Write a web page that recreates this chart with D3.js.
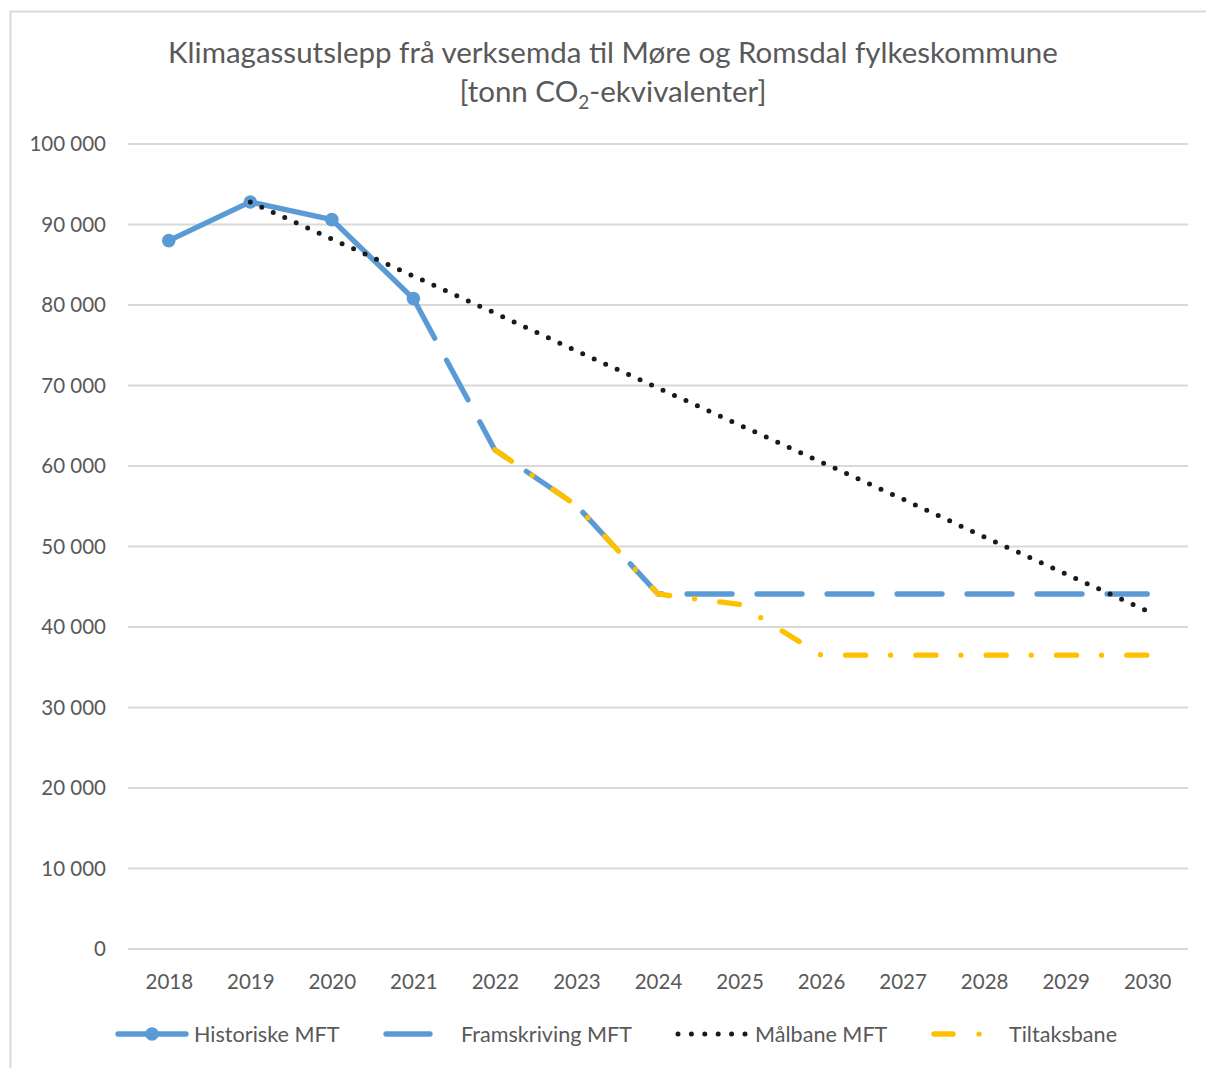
<!DOCTYPE html>
<html>
<head>
<meta charset="utf-8">
<title>Klimagassutslepp</title>
<script src="https://d3js.org/d3.v7.min.js"></script>
<style>
  body { margin: 0; background: #fff; }
  text { font-family: Lato, "Open Sans", sans-serif; fill: #595959; }
</style>
</head>
<body>
<div id="container"></div>
<script>
//---------------------------- DATA ----------------------------//
var years = [2018, 2019, 2020, 2021, 2022, 2023, 2024, 2025, 2026, 2027, 2028, 2029, 2030];
var yTicks = [0, 10000, 20000, 30000, 40000, 50000, 60000, 70000, 80000, 90000, 100000];

// null = no value for that year
var historiske  = [88000, 92800, 90600, 80800, null, null, null, null, null, null, null, null, null];
var framskriving = [null, null, null, 80800, 62000, 55100, 44100, 44100, 44100, 44100, 44100, 44100, 44100];
var malbane     = [null, 92800, 88200, 83600, 79000, 74300, 69700, 65100, 60500, 55900, 51200, 46600, 42000];
var tiltaksbane = [null, null, null, null, 62000, 55100, 44100, 42800, 36500, 36500, 36500, 36500, 36500];

var seriesNames = ["Historiske MFT", "Framskriving MFT", "Målbane MFT", "Tiltaksbane"];

//---------------------------- SETUP ---------------------------//
var W = 1206, H = 1068;
var plotLeft = 128, plotRight = 1188, plotTop = 144, plotBottom = 949;

var svg = d3.select("#container").append("svg")
    .attr("width", W)
    .attr("height", H);

// chart frame
svg.append("rect")
    .attr("x", 10.5).attr("y", 11.5)
    .attr("width", 1220).attr("height", 1080)
    .attr("fill", "none")
    .attr("stroke", "#d9d9d9")
    .attr("stroke-width", 2);

var x = d3.scalePoint()
    .domain(years)
    .range([plotLeft, plotRight])
    .padding(0.5);

var y = d3.scaleLinear()
    .domain([0, 100000])
    .range([plotBottom, plotTop]);

var nb = d3.formatLocale({ decimal: ",", thousands: " ", grouping: [3], currency: ["", ""] });
var fmt = nb.format(",d");

//---------------------------- TITLE ---------------------------//
svg.append("text")
    .attr("x", 613).attr("y", 63)
    .attr("text-anchor", "middle")
    .style("font-size", "29.5px")
    .text("Klimagassutslepp frå verksemda til Møre og Romsdal fylkeskommune");

var t2 = svg.append("text")
    .attr("x", 613).attr("y", 102)
    .attr("text-anchor", "middle")
    .style("font-size", "29.5px");
t2.append("tspan").text("[tonn CO");
t2.append("tspan").attr("dy", 7).style("font-size", "19px").text("2");
t2.append("tspan").attr("dy", -7).text("-ekvivalenter]");

//---------------------------- GRID / AXES ---------------------//
svg.append("g")
    .selectAll("line")
    .data(yTicks)
    .enter().append("line")
    .attr("x1", plotLeft).attr("x2", plotRight)
    .attr("y1", function(d) { return y(d); })
    .attr("y2", function(d) { return y(d); })
    .attr("stroke", "#d9d9d9")
    .attr("stroke-width", 2);

var yAxis = d3.axisLeft(y).tickValues(yTicks).tickFormat(fmt).tickSize(0).tickPadding(0);
var gy = svg.append("g")
    .attr("transform", "translate(106,0)")
    .call(yAxis);
gy.select(".domain").remove();
gy.selectAll("text").style("font-size", "20.5px").attr("fill", "#595959").style("font-family", null);

var xAxis = d3.axisBottom(x).tickSize(0).tickPadding(0);
var gx = svg.append("g")
    .attr("transform", "translate(0,974)")
    .call(xAxis);
gx.select(".domain").remove();
gx.selectAll("text").style("font-size", "20.5px").attr("fill", "#595959").style("font-family", null);

//---------------------------- LINES ---------------------------//
function lineFor(vals) {
    return d3.line()
        .defined(function(d, i) { return vals[i] !== null; })
        .x(function(d, i) { return x(years[i]); })
        .y(function(d, i) { return y(vals[i]); });
}

var blue = "#5b9bd5", yellow = "#ffc000", black = "#1a1a1a";

svg.append("path")
    .datum(historiske)
    .attr("d", lineFor(historiske))
    .attr("fill", "none")
    .attr("stroke", blue)
    .attr("stroke-width", 5.3)
    .attr("stroke-linejoin", "round");

svg.append("g").selectAll("circle")
    .data(historiske.map(function(v, i) { return { year: years[i], v: v }; }).filter(function(d) { return d.v !== null; }))
    .enter().append("circle")
    .attr("cx", function(d) { return x(d.year); })
    .attr("cy", function(d) { return y(d.v); })
    .attr("r", 6.8)
    .attr("fill", blue);

svg.append("path")
    .datum(framskriving)
    .attr("d", lineFor(framskriving))
    .attr("fill", "none")
    .attr("stroke", blue)
    .attr("stroke-width", 5.3)
    .attr("stroke-linecap", "round")
    .attr("stroke-linejoin", "round")
    .attr("stroke-dasharray", "45,25");

svg.append("path")
    .datum(tiltaksbane)
    .attr("d", lineFor(tiltaksbane))
    .attr("fill", "none")
    .attr("stroke", yellow)
    .attr("stroke-width", 5.3)
    .attr("stroke-linecap", "round")
    .attr("stroke-linejoin", "round")
    .attr("stroke-dasharray", "20,25,0,25.3");

svg.append("path")
    .datum(malbane)
    .attr("d", lineFor(malbane))
    .attr("fill", "none")
    .attr("stroke", black)
    .attr("stroke-width", 5)
    .attr("stroke-linecap", "round")
    .attr("stroke-dasharray", "0,12.6");

//---------------------------- LEGEND --------------------------//
var ly = 1034;
var legend = svg.append("g");

// Historiske
legend.append("line").attr("x1", 118).attr("x2", 186).attr("y1", ly).attr("y2", ly)
    .attr("stroke", blue).attr("stroke-width", 5.3).attr("stroke-linecap", "round");
legend.append("circle").attr("cx", 152).attr("cy", ly).attr("r", 6.8).attr("fill", blue);
// Framskriving
legend.append("line").attr("x1", 386).attr("x2", 430).attr("y1", ly).attr("y2", ly)
    .attr("stroke", blue).attr("stroke-width", 5.3).attr("stroke-linecap", "round");
// Målbane
legend.append("line").attr("x1", 678).attr("x2", 745).attr("y1", ly).attr("y2", ly)
    .attr("stroke", black).attr("stroke-width", 5).attr("stroke-linecap", "round")
    .attr("stroke-dasharray", "0,13.4");
// Tiltaksbane
legend.append("line").attr("x1", 934).attr("x2", 953).attr("y1", ly).attr("y2", ly)
    .attr("stroke", yellow).attr("stroke-width", 5.3).attr("stroke-linecap", "round");
legend.append("circle").attr("cx", 979).attr("cy", ly).attr("r", 2.6).attr("fill", yellow);

var labelX = [194, 461, 755, 1009];
legend.selectAll("text.lg")
    .data(seriesNames)
    .enter().append("text")
    .attr("class", "lg")
    .attr("x", function(d, i) { return labelX[i]; })
    .attr("y", ly)
    .attr("dy", "0.35em")
    .style("font-size", "21.6px")
    .text(function(d) { return d; });
</script>
</body>
</html>
